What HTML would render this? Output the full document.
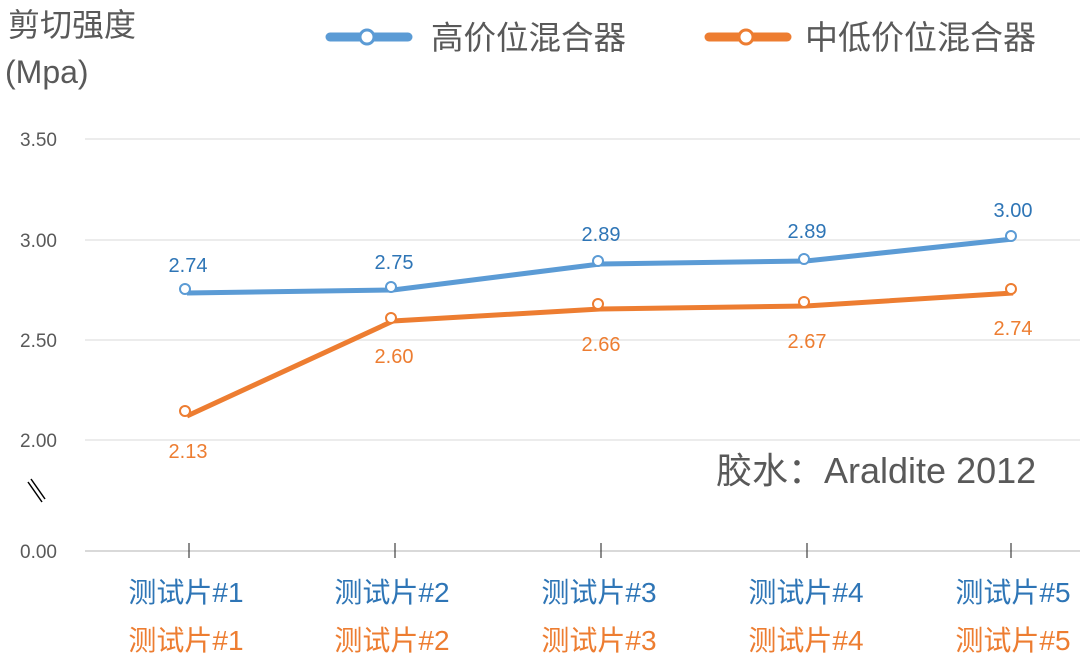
<!DOCTYPE html>
<html><head><meta charset="utf-8"><style>
html,body{margin:0;padding:0;background:#fff;}
svg{display:block;font-family:"Liberation Sans","Noto Sans CJK SC",sans-serif;}
</style></head><body>
<svg width="1080" height="664" viewBox="0 0 1080 664" xmlns="http://www.w3.org/2000/svg">
<text x="8" y="36" font-size="32" fill="#595959">剪切强度</text>
<text x="5" y="83" font-size="32" fill="#595959">(Mpa)</text>
<g stroke="#e6e6e6" stroke-width="1.5">
<line x1="85" y1="139" x2="1080" y2="139"/>
<line x1="85" y1="240" x2="1080" y2="240"/>
<line x1="85" y1="340" x2="1080" y2="340"/>
<line x1="85" y1="440" x2="1080" y2="440"/>
</g>
<line x1="85" y1="551" x2="1080" y2="551" stroke="#d9d9d9" stroke-width="2"/>
<g font-size="19" fill="#595959" text-anchor="end">
<text x="57" y="146">3.50</text>
<text x="57" y="247">3.00</text>
<text x="57" y="347">2.50</text>
<text x="57" y="447">2.00</text>
<text x="57" y="558">0.00</text>
</g>
<g stroke="#000" stroke-width="1.5"><line x1="28" y1="482" x2="42" y2="502"/><line x1="31" y1="479" x2="45" y2="499"/></g>
<g stroke="#404040" stroke-width="1.2">
<line x1="189" y1="543" x2="189" y2="558"/><line x1="395" y1="543" x2="395" y2="558"/><line x1="601" y1="543" x2="601" y2="558"/><line x1="807" y1="543" x2="807" y2="558"/><line x1="1011" y1="543" x2="1011" y2="558"/>
</g>
<polyline points="187,293 393,290 600,264 806,261 1013,239" fill="none" stroke="#5b9bd5" stroke-width="5"/>
<polyline points="187,416 393,321 600,309 806,306 1013,293" fill="none" stroke="#ed7d31" stroke-width="5"/>
<g fill="#fff" stroke="#5b9bd5" stroke-width="2">
<circle cx="185" cy="289" r="5"/><circle cx="391" cy="287" r="5"/><circle cx="598" cy="261" r="5"/><circle cx="804" cy="259" r="5"/><circle cx="1011" cy="236" r="5"/>
</g>
<g fill="#fff" stroke="#ed7d31" stroke-width="2">
<circle cx="185" cy="411" r="5"/><circle cx="391" cy="318" r="5"/><circle cx="598" cy="304" r="5"/><circle cx="804" cy="302" r="5"/><circle cx="1011" cy="289" r="5"/>
</g>
<g font-size="20" fill="#2e75b6" text-anchor="middle">
<text x="188" y="272">2.74</text><text x="394" y="269">2.75</text><text x="601" y="241">2.89</text><text x="807" y="238">2.89</text><text x="1013" y="217">3.00</text>
</g>
<g font-size="20" fill="#ed7d31" text-anchor="middle">
<text x="188" y="458">2.13</text><text x="394" y="363">2.60</text><text x="601" y="351">2.66</text><text x="807" y="348">2.67</text><text x="1013" y="335">2.74</text>
</g>
<line x1="330" y1="37" x2="408" y2="37" stroke="#5b9bd5" stroke-width="9" stroke-linecap="round"/>
<circle cx="367" cy="37" r="7" fill="#fff" stroke="#5b9bd5" stroke-width="3"/>
<text x="431" y="49" font-size="32.5" fill="#595959">高价位混合器</text>
<line x1="709" y1="37" x2="787" y2="37" stroke="#ed7d31" stroke-width="9" stroke-linecap="round"/>
<circle cx="746" cy="37" r="7" fill="#fff" stroke="#ed7d31" stroke-width="3"/>
<text x="805" y="49" font-size="33" fill="#595959">中低价位混合器</text>
<text x="716" y="483" font-size="36" fill="#595959">胶水：Araldite 2012</text>
<g font-size="28" fill="#2e75b6" text-anchor="middle">
<text x="186" y="602">测试片#1</text><text x="392" y="602">测试片#2</text><text x="599" y="602">测试片#3</text><text x="806" y="602">测试片#4</text><text x="1013" y="602">测试片#5</text>
</g>
<g font-size="28" fill="#ed7d31" text-anchor="middle">
<text x="186" y="650">测试片#1</text><text x="392" y="650">测试片#2</text><text x="599" y="650">测试片#3</text><text x="806" y="650">测试片#4</text><text x="1013" y="650">测试片#5</text>
</g>
</svg>
</body></html>
